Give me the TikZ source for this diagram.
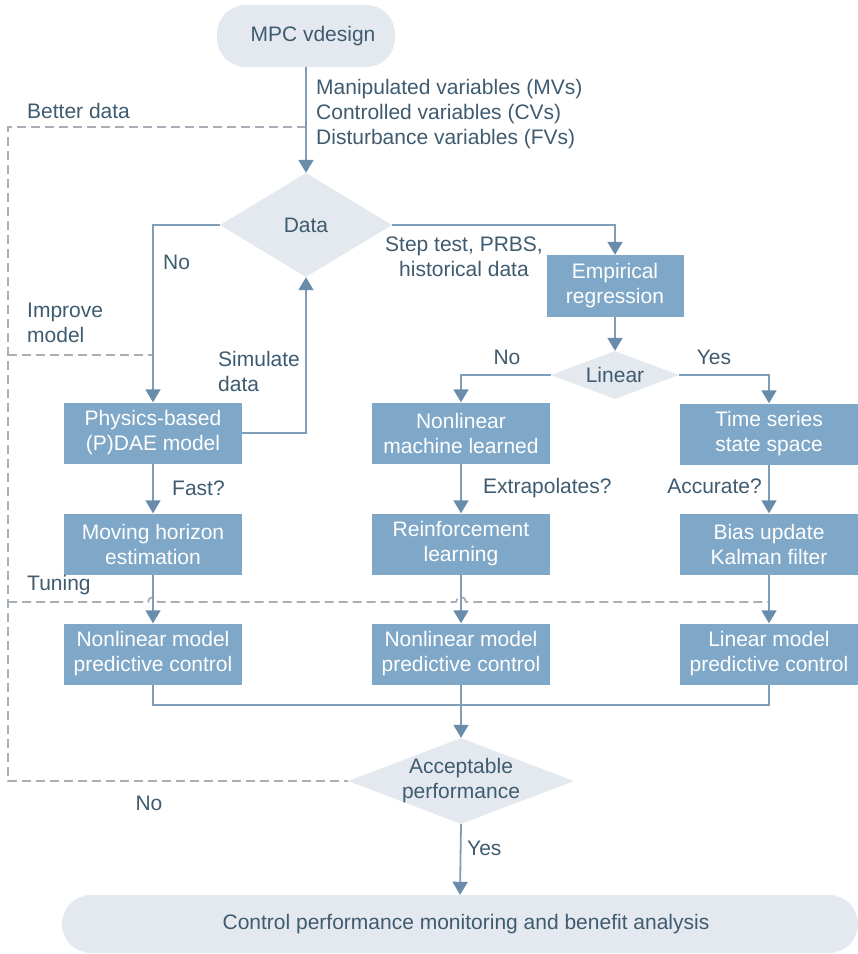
\documentclass[tikz,border=0pt]{standalone}
\usepackage{fontspec}
\setmainfont{Liberation Sans}
\usetikzlibrary{arrows.meta,shapes.geometric}
\definecolor{boxblue}{HTML}{7FA7C7}
\definecolor{inkc}{HTML}{3F5B70}
\definecolor{linec}{HTML}{7E9DB8}
\definecolor{tipc}{HTML}{6A8CAB}
\definecolor{paleblue}{HTML}{E4E9EF}
\definecolor{dashc}{HTML}{A9AFB6}
\begin{document}
\begin{tikzpicture}[x=1pt,y=-1pt,
  font=\fontsize{21}{25}\selectfont,
  procbox/.style={rectangle, fill=boxblue, text=white, minimum width=178pt,
    minimum height=61pt, inner sep=0pt, align=center},
  termbox/.style={rectangle, rounded corners=29pt, fill=paleblue, text=inkc, inner sep=0pt},
  decbox/.style={diamond, fill=paleblue, inner sep=0pt},
  lbl/.style={text=inkc, inner sep=0pt},
  flow/.style={draw=linec, line width=1.8pt, -{Triangle[width=15pt,length=13pt,color=tipc]}},
  plain/.style={draw=linec, line width=1.8pt},
  fb/.style={draw=dashc, line width=1.8pt, dash pattern=on 9pt off 5pt}]

\useasboundingbox[fill=white] (0,0) rectangle (858,954);

% terminals
\node[termbox, minimum width=178pt, minimum height=62pt] (start) at (306,36) {\hspace*{14pt}MPC vdesign};
\node[termbox, minimum width=796pt, minimum height=58pt] (finish) at (460,924)
  {\hspace*{12pt}Control performance monitoring and benefit analysis};

% decisions
\node[decbox, minimum width=172pt, minimum height=104pt] (data) at (306,225) {};
\node[lbl] (datat) at (data) {Data};
\node[decbox, minimum width=128pt, minimum height=48pt] (lin) at (615,375) {};
\node[lbl] (lint) at (lin) {Linear};
\node[decbox, minimum width=226pt, minimum height=86pt] (acc) at (461,781) {};
\node[lbl, align=center] (acct) at (acc) {Acceptable\\performance};

% process boxes
\node[procbox] (phys)  at (153,433) {Physics-based\\(P)DAE model};
\node[procbox] (mhe)   at (153,544) {Moving horizon\\estimation};
\node[procbox] (nmpcA) at (153,654) {Nonlinear model\\predictive control};
\node[procbox] (nml)   at (461,433) {Nonlinear\\machine learned};
\node[procbox] (rl)    at (461,544) {Reinforcement\\learning};
\node[procbox] (nmpcB) at (461,654) {Nonlinear model\\predictive control};
\node[procbox] (ts)    at (769,434) {Time series\\state space};
\node[procbox] (bias)  at (769,544) {Bias update\\Kalman filter};
\node[procbox] (lmpc)  at (769,654) {Linear model\\predictive control};
\node[procbox, minimum width=137pt, minimum height=62pt] (emp) at (615,286) {Empirical\\regression};

% feedback paths (dashed)
\coordinate (bdtap) at (306,127);
\coordinate (bdcorner) at (8,127);
\coordinate (nocorner) at (8,781);
\coordinate (impl) at (8,355);
\coordinate (impr) at (153,355);
\coordinate (tunl) at (8,602);
\coordinate (tunr) at (769,602);
\draw[fb] (bdtap) -- (bdcorner) -- (nocorner) -- (acc.west);
\draw[fb] (impl) -- (impr);
\draw[fb] (tunl) -- (148,602) arc[start angle=180,end angle=360,radius=5]
  -- (456,602) arc[start angle=180,end angle=360,radius=5] -- (tunr);

% main flow
\draw[flow] (start) -- (data);
\draw[flow] (data.west) -| (phys.north);
\draw[flow] (phys.east) -| (data.south);
\draw[flow] (data.east) -| (emp.north);
\draw[flow] (emp) -- (lin);
\draw[flow] (lin.west) -| (nml.north);
\draw[flow] (lin.east) -| (ts.north);
\draw[flow] (phys) -- (mhe);
\draw[flow] (mhe) -- (nmpcA);
\draw[flow] (nml) -- (rl);
\draw[flow] (rl) -- (nmpcB);
\draw[flow] (ts) -- (bias);
\draw[flow] (bias) -- (lmpc);
\coordinate (join) at (461,705);
\draw[plain] (nmpcA.south) |- (join) -| (lmpc.south);
\draw[flow] (nmpcB.south) -- (acc.north);
\draw[flow] (acc.south) -- (finish.north);

% labels
\node[lbl, anchor=west, align=left] (vars) at (316,114)
  {Manipulated variables (MVs)\\Controlled variables (CVs)\\Disturbance variables (FVs)};
\node[lbl, anchor=west] (better) at (27,111) {Better data};
\node[lbl, anchor=west] (noA) at (163,262) {No};
\node[lbl, anchor=west, align=left] (improve) at (27,323) {Improve\\model};
\node[lbl, anchor=west, align=left] (simul) at (218,371) {Simulate\\data};
\node[lbl, align=center] (step) at (464,257) {Step test, PRBS,\\historical data};
\node[lbl] (noB) at (507,357) {No};
\node[lbl] (yesA) at (714,357) {Yes};
\node[lbl, anchor=west] (fast) at (172,488) {Fast?};
\node[lbl, anchor=west] (extra) at (483,488) {Extrapolates?};
\node[lbl, anchor=east] (accur) at (762,486) {Accurate?};
\node[lbl, anchor=west] (tuning) at (27,585) {Tuning};
\node[lbl] (noC) at (149,803) {No};
\node[lbl, anchor=west] (yesB) at (467,848) {Yes};
\end{tikzpicture}
\end{document}
